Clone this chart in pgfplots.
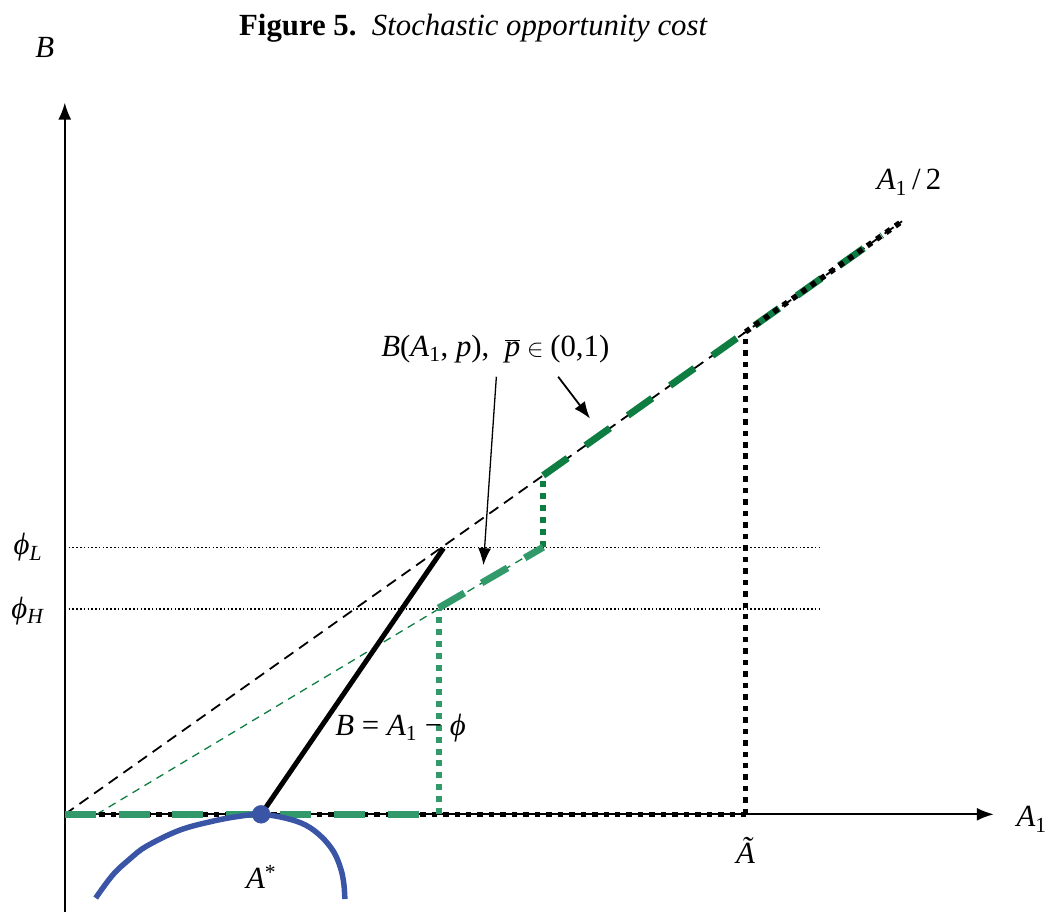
\documentclass[border=0pt]{standalone}
\usepackage{pgfplots}
\pgfplotsset{compat=1.18}
\usepackage{fontspec}
\setmainfont{Liberation Serif}
\usetikzlibrary{arrows.meta}
\definecolor{gdark}{HTML}{0E7D42}
\definecolor{glight}{HTML}{32996A}
\definecolor{eblue}{HTML}{3A55A5}
\begin{document}
\begin{tikzpicture}
\begin{axis}[
  x=1bp, y=1bp,
  xmin=-65, xmax=985, ymin=-98, ymax=817,
  hide axis, clip=false,
]
\path (axis cs:-65,-98) rectangle (axis cs:985,817);
% axes
\draw[line width=1.8bp, -{Latex[length=17bp,width=13bp]}] (axis cs:0,-98) -- (axis cs:0,714);
\draw[line width=1.8bp, -{Latex[length=17bp,width=13bp]}] (axis cs:0,0) -- (axis cs:932,0);
% thin dotted phi levels
\addplot[black, line width=1.1bp, dash pattern=on 1.6bp off 2.2bp] coordinates {(0,268) (757,268)};
\addplot[black, line width=1.1bp, dash pattern=on 1.6bp off 2.2bp] coordinates {(0,206) (760,206)};
% A1/2 dashed
\addplot[black, line width=1.8bp, dash pattern=on 11bp off 7bp] coordinates {(0,0) (840,595)};
% green thin dashed
\addplot[gdark, line width=1.3bp, dash pattern=on 8bp off 6bp] coordinates {(32,0) (480,269)};
% heavy black dotted: horizontal + vertical
\addplot[black, line width=5.5bp, dash pattern=on 5.5bp off 6bp] coordinates {(0,0) (683,0)};
\addplot[black, line width=5.5bp, dash pattern=on 5.5bp off 6bp] coordinates {(683,0) (683,484)};
% green thick dashed on axis
\addplot[glight, line width=7bp, dash pattern=on 31bp off 23bp] coordinates {(0,0) (375,0)};
% green dotted verticals
\addplot[glight, line width=6bp, dash pattern=on 6bp off 6bp] coordinates {(375,0) (375,206)};
\addplot[gdark, line width=6bp, dash pattern=on 6bp off 6bp] coordinates {(480,268) (480,340)};
% green thick dashed on slope
\addplot[glight, line width=7bp, dash pattern=on 30bp off 20bp] coordinates {(375,207) (480,268)};
% green thick dashed upper
\addplot[gdark, line width=7bp, dash pattern=on 30bp off 22bp] coordinates {(480,340) (820,581)};
% heavy black dotted upper
\addplot[black, line width=5.5bp, dash pattern=on 5.5bp off 6bp] coordinates {(683,484) (840,595)};
% solid B = A1 - phi
\addplot[black, line width=5bp] coordinates {(197,0) (380,267)};
% blue curve
\addplot[eblue, line width=5.5bp, smooth, tension=0.6] coordinates {
 (31,-84) (48,-61) (65,-45) (82,-32) (115,-16) (148,-7) (175,-2) (197,0)
 (222,-4) (242,-11) (258,-23) (270,-38) (277,-55) (280,-70) (281,-85)};
\addplot[eblue, only marks, mark=*, mark size=9bp] coordinates {(197,0)};
% annotation arrows
\draw[line width=1.3bp, -{Latex[length=17bp,width=13bp]}] (axis cs:433,439) -- (axis cs:420,250);
\draw[line width=1.8bp, -{Latex[length=17bp,width=13bp]}] (axis cs:495,439) -- (axis cs:527,397);
% labels
\node at (axis cs:410,789) {\fontsize{31}{36}\selectfont\textbf{Figure 5.}\ \ \textit{Stochastic opportunity cost}};
\node at (axis cs:-20,769) {\fontsize{31}{36}\selectfont\textit{B}};
\node at (axis cs:-37,268) {\fontsize{31}{36}\selectfont\textit{ϕ}\textsubscript{\textit{L}}};
\node at (axis cs:-37,204) {\fontsize{31}{36}\selectfont\textit{ϕ}\textsubscript{\textit{H}}};
\node at (axis cs:847,634) {\fontsize{31}{36}\selectfont\textit{A}\textsubscript{1}\,/\,2};
\node at (axis cs:432,467) {\fontsize{31}{36}\selectfont\textit{B}(\textit{A}\textsubscript{1}, \textit{p}),\ \ $\overline{\mbox{\textit{p}}}\in{}$(0,1)};
\node at (axis cs:337,87) {\fontsize{31}{36}\selectfont\textit{B} = \textit{A}\textsubscript{1} − \textit{ϕ}};
\node at (axis cs:197,-63) {\fontsize{31}{36}\selectfont\textit{A}\textsuperscript{*}};
\node at (axis cs:683,-36) {\fontsize{31}{36}\selectfont\textit{Ã}};
\node at (axis cs:970,-5) {\fontsize{31}{36}\selectfont\textit{A}\textsubscript{1}};
\end{axis}
\end{tikzpicture}
\end{document}
